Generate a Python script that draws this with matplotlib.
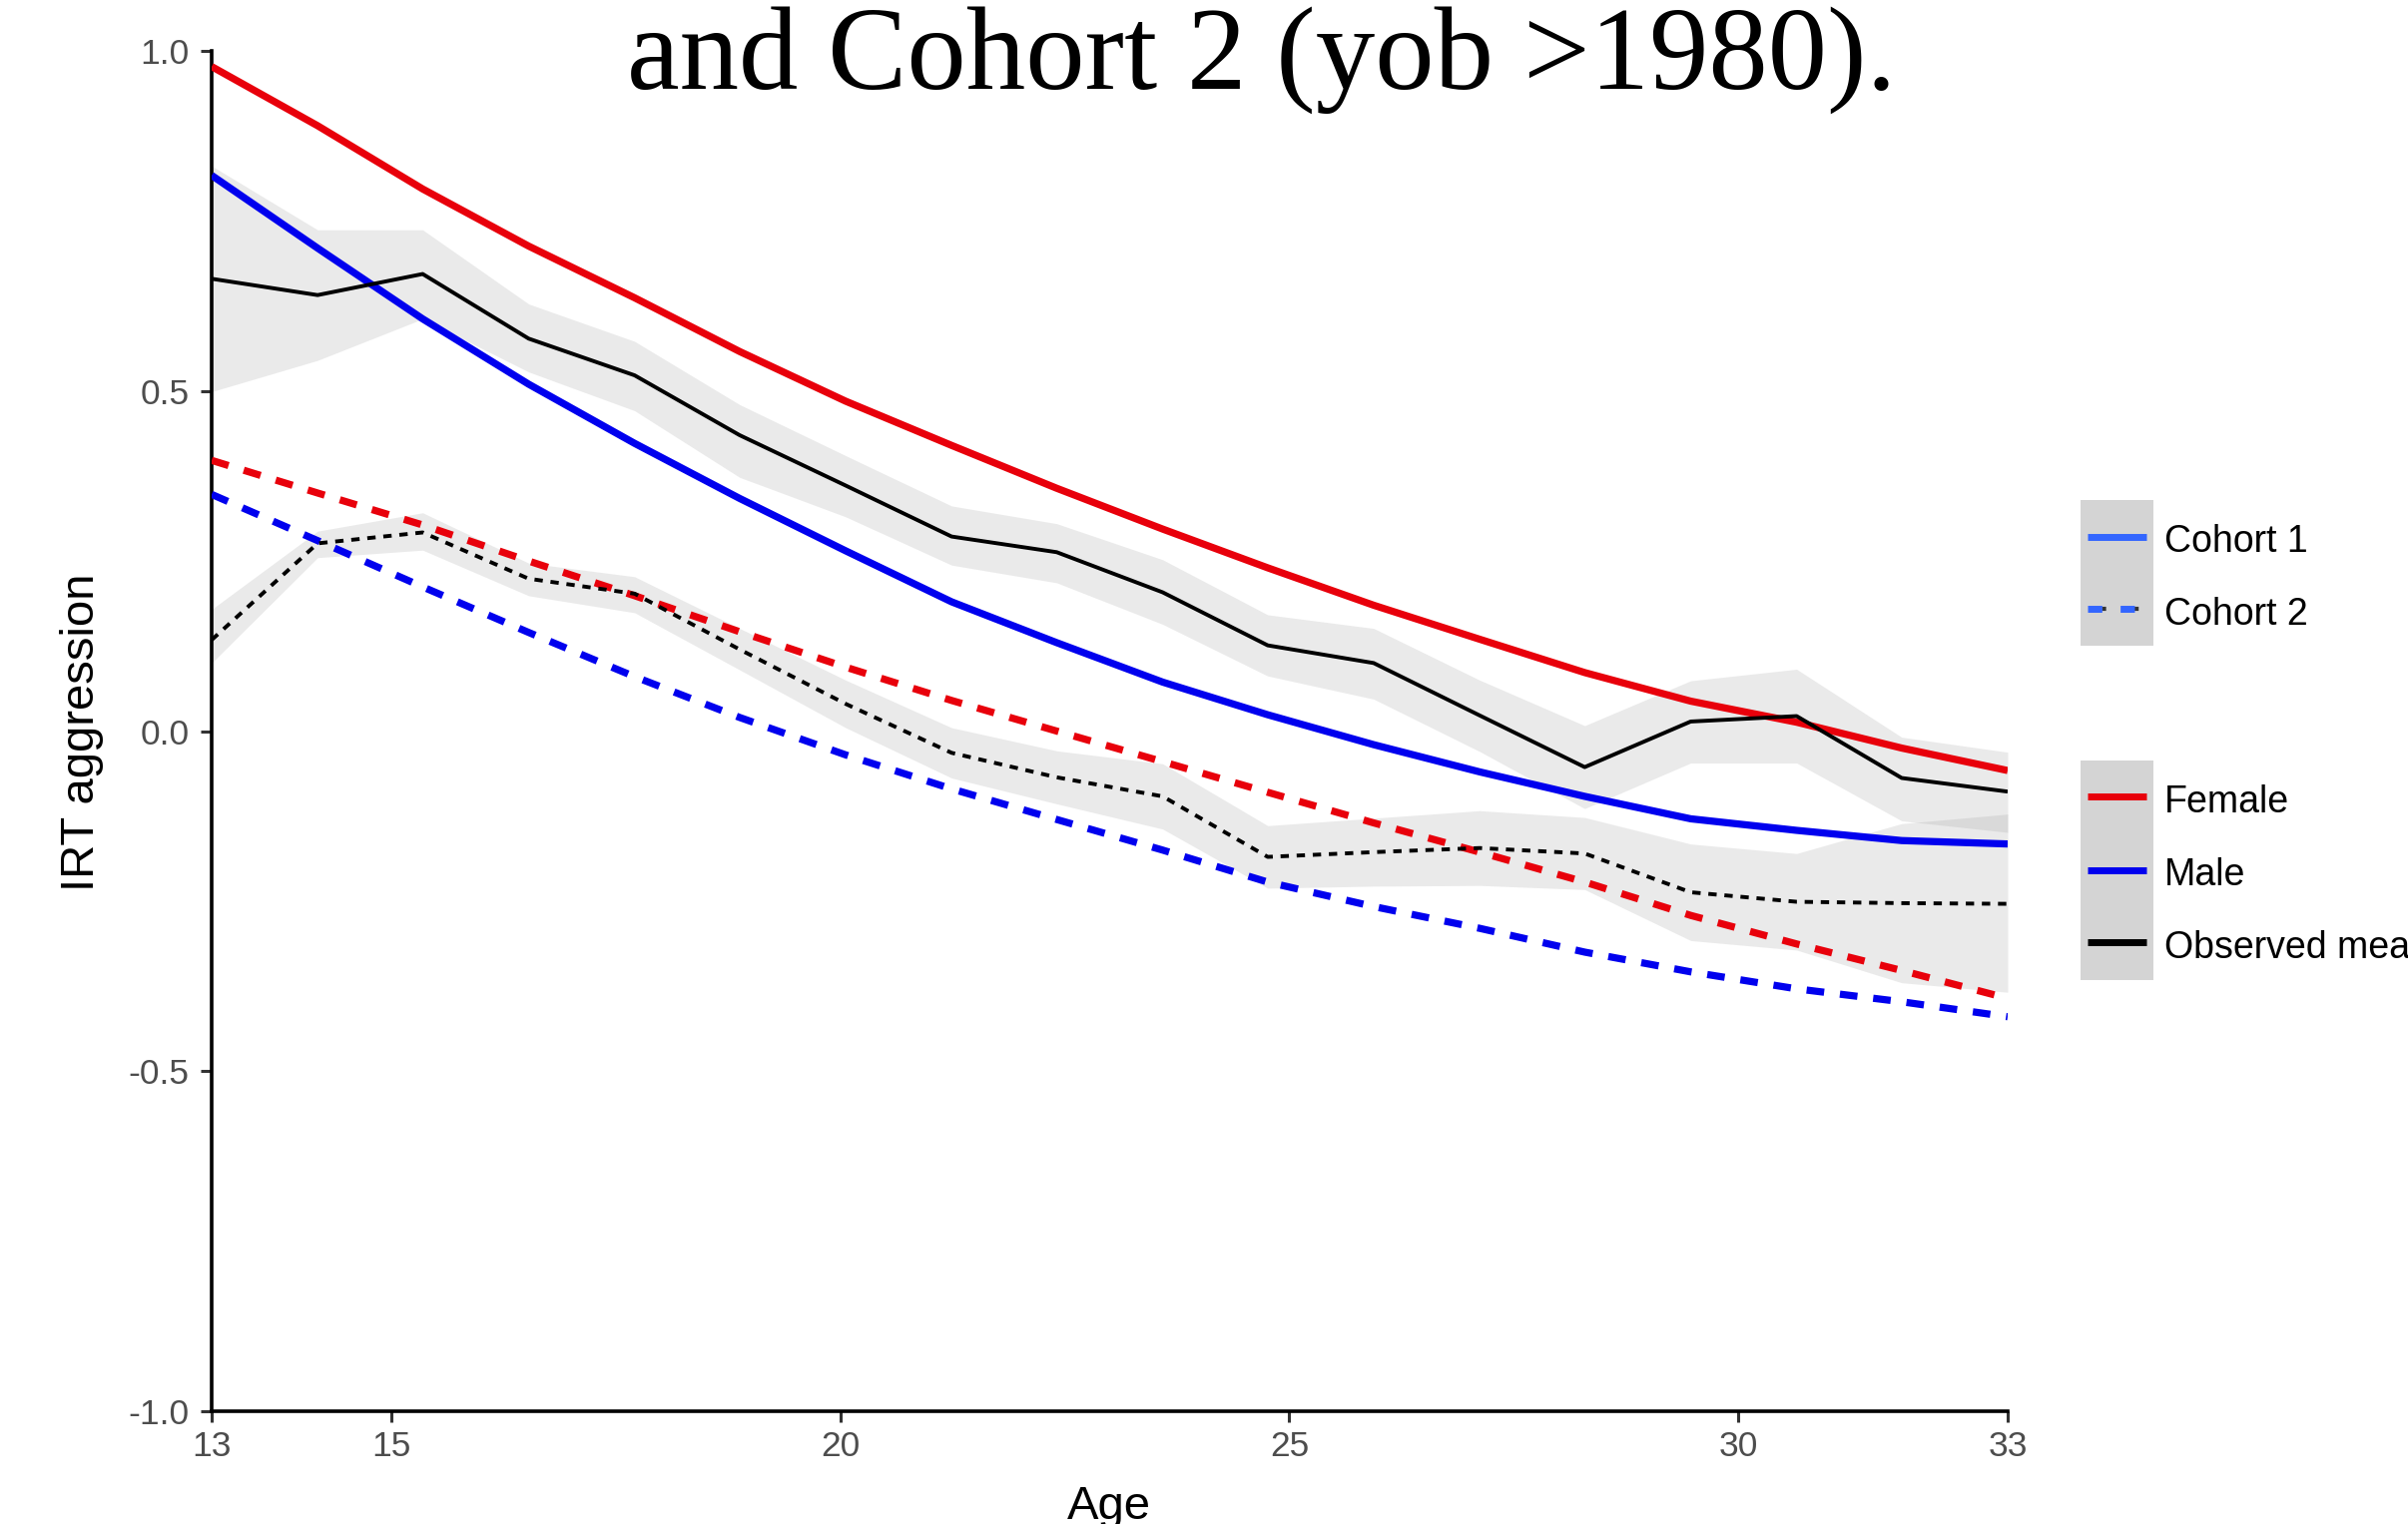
import matplotlib
matplotlib.use("Agg")
import matplotlib.pyplot as plt
from matplotlib.lines import Line2D
from matplotlib.patches import Rectangle

# ---------------- data ----------------
ages = [13.00, 14.18, 15.35, 16.53, 17.71, 18.88, 20.06, 21.24, 22.41,
        23.59, 24.76, 25.94, 27.12, 28.29, 29.47, 30.65, 31.82, 33.00]

# observed means with confidence ribbons
obs_c1 = [0.665, 0.641, 0.672, 0.577, 0.523, 0.435, 0.361, 0.286, 0.263,
          0.204, 0.126, 0.100, 0.023, -0.053, 0.014, 0.022, -0.069, -0.089]
obs_c1_hi = [0.831, 0.737, 0.737, 0.628, 0.573, 0.480, 0.405, 0.331, 0.305,
             0.252, 0.171, 0.151, 0.075, 0.008, 0.074, 0.091, -0.009, -0.031]
obs_c1_lo = [0.499, 0.545, 0.606, 0.528, 0.471, 0.373, 0.315, 0.244, 0.218,
             0.157, 0.081, 0.047, -0.030, -0.114, -0.047, -0.047, -0.132, -0.149]

obs_c2 = [0.134, 0.276, 0.292, 0.224, 0.202, 0.120, 0.040, -0.032, -0.068,
          -0.096, -0.185, -0.178, -0.172, -0.180, -0.237, -0.251, -0.253, -0.254]
obs_c2_hi = [0.179, 0.294, 0.321, 0.247, 0.227, 0.151, 0.075, 0.005, -0.029,
             -0.048, -0.139, -0.128, -0.117, -0.127, -0.166, -0.180, -0.136, -0.122]
obs_c2_lo = [0.100, 0.255, 0.266, 0.199, 0.174, 0.090, 0.005, -0.069, -0.107,
             -0.144, -0.231, -0.228, -0.227, -0.233, -0.308, -0.322, -0.370, -0.384]

# fitted trajectories
female_c1 = [0.977, 0.890, 0.797, 0.713, 0.637, 0.558, 0.485, 0.420, 0.357,
             0.297, 0.240, 0.185, 0.135, 0.086, 0.044, 0.013, -0.025, -0.058]
male_c1 = [0.817, 0.710, 0.606, 0.510, 0.423, 0.342, 0.265, 0.190, 0.130,
           0.072, 0.024, -0.020, -0.060, -0.096, -0.129, -0.146, -0.161, -0.166]
female_c2 = [0.398, 0.350, 0.303, 0.250, 0.199, 0.146, 0.094, 0.045, 0.000,
             -0.045, -0.090, -0.135, -0.178, -0.222, -0.271, -0.313, -0.352, -0.393]
male_c2 = [0.348, 0.280, 0.212, 0.145, 0.080, 0.020, -0.035, -0.085, -0.130,
           -0.175, -0.222, -0.258, -0.290, -0.325, -0.354, -0.379, -0.398, -0.420]

x_ticks = [13, 15, 20, 25, 30, 33]
y_ticks = [-1.0, -0.5, 0.0, 0.5, 1.0]
y_ticklabels = ["-1.0", "-0.5", "0.0", "0.5", "1.0"]

title_text = "and Cohort 2 (yob >1980)."
legend1_labels = ["Cohort 1", "Cohort 2"]
legend2_labels = ["Female", "Male", "Observed mean"]

# ---------------- style ----------------
RED = "#E8000B"
BLUE = "#0000EE"
COH_BLUE = "#3366FF"
W, H = 2412, 1527

plt.rcParams["font.family"] = ["Liberation Sans", "DejaVu Sans"]

fig = plt.figure(figsize=(W / 100, H / 100), dpi=100)
fig.patch.set_facecolor("white")

x0, x1 = 212, 2011
y0, y1 = 51, 1414
ax = fig.add_axes([x0 / W, 1 - y1 / H, (x1 - x0) / W, (y1 - y0) / H])
ax.set_xlim(13, 33)
ax.set_ylim(-1, 1)
ax.set_facecolor("white")

# ribbons
ax.fill_between(ages, obs_c1_lo, obs_c1_hi, color="#999999", alpha=0.2, lw=0, zorder=1)
ax.fill_between(ages, obs_c2_lo, obs_c2_hi, color="#999999", alpha=0.2, lw=0, zorder=1)

# fitted lines
LW_FIT = 5.2
dash_fit = (0, (2.45, 2.2))
ax.plot(ages, female_c1, color=RED, lw=LW_FIT, zorder=3, solid_capstyle="butt")
ax.plot(ages, male_c1, color=BLUE, lw=LW_FIT, zorder=3, solid_capstyle="butt")
ax.plot(ages, female_c2, color=RED, lw=LW_FIT, ls=dash_fit, zorder=3)
ax.plot(ages, male_c2, color=BLUE, lw=LW_FIT, ls=dash_fit, zorder=3)

# observed means
LW_OBS = 2.8
ax.plot(ages, obs_c1, color="black", lw=LW_OBS, zorder=4, solid_capstyle="butt")
ax.plot(ages, obs_c2, color="black", lw=LW_OBS, ls=(0, (2.15, 2.0)), zorder=4)

# axes styling
for s in ["top", "right"]:
    ax.spines[s].set_visible(False)
for s in ["left", "bottom"]:
    ax.spines[s].set_linewidth(2.6)
    ax.spines[s].set_color("black")
ax.set_xticks(x_ticks)
ax.set_xticklabels([str(t) for t in x_ticks])
ax.set_yticks(y_ticks)
ax.set_yticklabels(y_ticklabels)
ax.tick_params(axis="both", length=8, width=2.2, color="#333333",
               labelsize=25.5, labelcolor="#4D4D4D")
ax.tick_params(axis="x", pad=6)
ax.tick_params(axis="y", pad=8)

# axis titles
fig.text(1111 / W, 1 - 1521.5 / H, "Age", fontsize=34, ha="center", va="baseline")
fig.text(94 / W, 1 - 734 / H, "IRT aggression", fontsize=34, rotation=90,
         rotation_mode="anchor", ha="center", va="baseline")

# title (cut at top as in reference)
fig.text(628 / W, 1 - 88.3 / H, title_text, fontsize=85.5,
         family=["Liberation Serif", "DejaVu Serif"], ha="left", va="baseline")

# ---------------- legends ----------------
kx0, kx1 = 2084, 2156.7
lx0, lx1 = 2090.7, 2150
tx = 2168


def key_box(top, bottom):
    fig.patches.append(Rectangle((kx0 / W, 1 - bottom / H), (kx1 - kx0) / W,
                                 (bottom - top) / H, transform=fig.transFigure,
                                 facecolor="#D4D4D4", edgecolor="none", zorder=1))


def key_line(y, color, **kw):
    fig.lines.append(Line2D([lx0 / W, lx1 / W], [1 - y / H, 1 - y / H],
                            transform=fig.transFigure, color=color,
                            solid_capstyle="butt", dash_capstyle="butt", zorder=2, **kw))


key_box(500.7, 646.7)
key_line(537.7, COH_BLUE, lw=5)
key_line(610, "#333333", lw=3, ls=(4.39, (1.03, 6.8)))
key_line(610, COH_BLUE, lw=5, ls=(0, (2.06, 2.64)))
for lab, yb in zip(legend1_labels, [553.3, 625.6]):
    fig.text(tx / W, 1 - yb / H, lab, fontsize=27, ha="left", va="baseline")

key_box(761.7, 981.7)
for lab, col, yl in zip(legend2_labels, [RED, BLUE, "black"], [798.3, 871.7, 944.3]):
    key_line(yl, col, lw=5)
    fig.text(tx / W, 1 - (yl + 15.6) / H, lab, fontsize=27, ha="left", va="baseline")

fig.savefig("out.png", dpi=100, facecolor="white")
